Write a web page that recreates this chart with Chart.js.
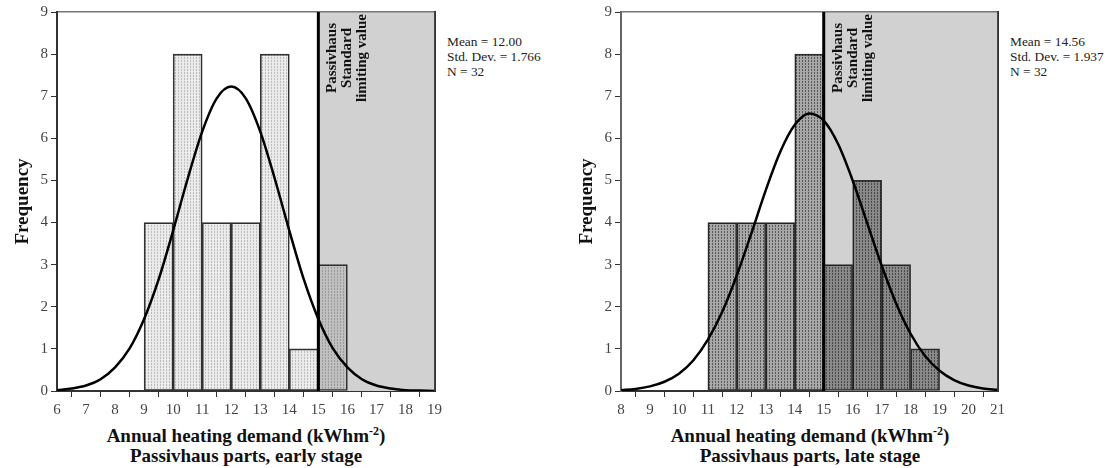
<!DOCTYPE html>
<html>
<head>
<meta charset="utf-8">
<script src="https://cdn.jsdelivr.net/npm/chart.js@4"></script>
<style>
  body { margin: 0; background: #fff; }
  #wrap { position: relative; width: 1119px; height: 468px; font-family: "Liberation Serif", "Times New Roman", serif; }
  canvas { position: absolute; top: 0; }
  .stats { position: absolute; top: 34px; font-family: "Liberation Serif", serif; font-size: 13.4px; line-height: 15px; color: #222; }
  .xtitle { position: absolute; top: 426px; width: 400px; text-align: center; font-family: "Liberation Serif", serif;
            font-weight: bold; font-size: 19px; line-height: 20px; color: #111; }
  .xtitle sup { font-size: 12px; line-height: 0; }
</style>
</head>
<body>
<div id="wrap">
  <canvas id="early" width="446" height="420" style="left:0px"></canvas>
  <canvas id="late" width="445" height="420" style="left:564px"></canvas>
  <div class="stats" id="earlyStats" style="left:447px"></div>
  <div class="stats" id="lateStats" style="left:1010px"></div>
  <div class="xtitle" style="left:46px">Annual heating demand (kWhm<sup>-2</sup>)<br>Passivhaus parts, early stage</div>
  <div class="xtitle" style="left:610px">Annual heating demand (kWhm<sup>-2</sup>)<br>Passivhaus parts, late stage</div>
</div>
<script>
// histogram bins (start of each 1-unit bin) and counts
const earlyBinStart = [9, 10, 11, 12, 13, 14, 15];
const earlyCounts   = [4, 8, 4, 4, 8, 1, 3];
const lateBinStart  = [11, 12, 13, 14, 15, 16, 17, 18];
const lateCounts    = [4, 4, 4, 8, 3, 5, 3, 1];

// fitted normal curve
const earlyCurveX = [6, 6.5, 7, 7.5, 8, 8.5, 9, 9.5, 10, 10.5, 11, 11.5, 12, 12.5, 13, 13.5, 14, 14.5, 15, 15.5, 16, 16.5, 17, 17.5, 18, 18.5, 19];
const earlyCurveY = [0.02, 0.06, 0.13, 0.28, 0.56, 1.01, 1.71, 2.65, 3.81, 5.04, 6.16, 6.95, 7.23, 6.95, 6.16, 5.04, 3.81, 2.65, 1.71, 1.01, 0.56, 0.28, 0.13, 0.06, 0.02, 0.01, 0.0];
const lateCurveX  = [8, 8.5, 9, 9.5, 10, 10.5, 11, 11.5, 12, 12.5, 13, 13.5, 14, 14.5, 15, 15.5, 16, 16.5, 17, 17.5, 18, 18.5, 19, 19.5, 20, 20.5, 21];
const lateCurveY  = [0.02, 0.05, 0.11, 0.22, 0.41, 0.73, 1.22, 1.89, 2.75, 3.74, 4.77, 5.68, 6.32, 6.59, 6.42, 5.86, 5.0, 3.99, 2.98, 2.08, 1.36, 0.83, 0.48, 0.26, 0.13, 0.06, 0.03];

// axis ranges
const earlyRange = [6, 19];
const lateRange  = [8, 21];
const freqRange  = [0, 9];
const limitValue = 15;
const limitLabel = ['Passivhaus', 'Standard', 'limiting value'];

const earlyStats = ['Mean = 12.00', 'Std. Dev. = 1.766', 'N = 32'];
const lateStats  = ['Mean = 14.56', 'Std. Dev. = 1.937', 'N = 32'];

document.getElementById('earlyStats').innerHTML = earlyStats.join('<br>');
document.getElementById('lateStats').innerHTML = lateStats.join('<br>');

function makePattern(ctx, base, dot) {
  const c = document.createElement('canvas');
  c.width = 3; c.height = 3;
  const g = c.getContext('2d');
  g.fillStyle = base; g.fillRect(0, 0, 3, 3);
  g.fillStyle = dot; g.fillRect(1, 0, 1, 2);
  return ctx.createPattern(c, 'repeat');
}

const limitText = {
  id: 'limitText',
  afterDatasetsDraw(chart) {
    const ctx = chart.ctx;
    const x = chart.scales.x.getPixelForValue(limitValue);
    ctx.save();
    ctx.translate(x + 14, chart.chartArea.top + 46);
    ctx.rotate(-Math.PI / 2);
    ctx.font = 'bold 15px "Liberation Serif"';
    ctx.fillStyle = '#111';
    ctx.textAlign = 'center';
    ctx.textBaseline = 'middle';
    limitLabel.forEach((l, i) => ctx.fillText(l, 0, i * 15));
    ctx.restore();
  }
};

function buildChart(id, range, binStart, counts, curveX, curveY, pat, axisColor) {
  const ctx = document.getElementById(id).getContext('2d');
  const tickFont = { family: '"Liberation Serif", serif', size: 15 };
  return new Chart(ctx, {
    type: 'bar',
    data: {
      datasets: [
        {
          type: 'line',
          data: [{ x: limitValue, y: freqRange[1] }, { x: limitValue, y: freqRange[0] }],
          borderColor: '#000',
          borderWidth: 3,
          pointRadius: 0,
          order: 0
        },
        {
          type: 'line',
          data: curveX.map((x, i) => ({ x, y: curveY[i] })),
          borderColor: '#000',
          borderWidth: 2.5,
          pointRadius: 0,
          cubicInterpolationMode: 'monotone',
          order: 1
        },
        {
          type: 'bar',
          data: binStart.map((b, i) => ({ x: b + 0.5, y: counts[i] })),
          backgroundColor: pat,
          borderColor: '#333',
          borderWidth: 1,
          borderSkipped: false,
          barPercentage: 1,
          categoryPercentage: 1,
          order: 2
        },
        {
          type: 'line',
          data: [{ x: limitValue, y: freqRange[1] }, { x: range[1], y: freqRange[1] }],
          backgroundColor: '#d1d1d1',
          borderColor: '#777',
          borderWidth: 1,
          pointRadius: 0,
          fill: 'origin',
          order: 3
        }
      ]
    },
    options: {
      responsive: false,
      animation: false,
      layout: { padding: { top: 11, right: 6, left: 0, bottom: 0 } },
      plugins: { legend: { display: false }, tooltip: { enabled: false } },
      scales: {
        x: {
          type: 'linear',
          min: range[0], max: range[1],
          offset: false,
          afterFit(s) { s.height = 29; },
          ticks: { stepSize: 1, color: '#444', font: tickFont, padding: 4, maxRotation: 0 },
          grid: { drawOnChartArea: false, tickLength: 6, tickColor: '#333' },
          border: { color: '#333', width: 2 }
        },
        x2: {
          type: 'linear', position: 'top',
          min: range[0], max: range[1],
          afterFit(s) { s.height = 0; },
          ticks: { display: false },
          grid: { display: false },
          border: { color: '#777', width: 1.5 }
        },
        y: {
          min: freqRange[0], max: freqRange[1],
          afterFit(s) { s.width = 57; },
          ticks: { stepSize: 1, color: '#444', font: tickFont, padding: 3 },
          grid: { drawOnChartArea: false, tickLength: 6, tickColor: '#333' },
          border: { color: axisColor, width: 2 },
          title: {
            display: true, text: 'Frequency', color: '#111',
            font: { family: '"Liberation Serif", serif', size: 19, weight: 'bold' },
            padding: { top: 12, bottom: 0 }
          }
        },
        y2: {
          position: 'right',
          min: freqRange[0], max: freqRange[1],
          afterFit(s) { s.width = 0; },
          ticks: { display: false },
          grid: { display: false },
          border: { color: '#333', width: 2 }
        }
      }
    },
    plugins: [limitText]
  });
}

const ctxE = document.getElementById('early').getContext('2d');
const ctxL = document.getElementById('late').getContext('2d');
buildChart('early', earlyRange, earlyBinStart, earlyCounts, earlyCurveX, earlyCurveY,
  makePattern(ctxE, 'rgba(0,0,0,0.08)', 'rgba(0,0,0,0.2)'), '#333');
buildChart('late', lateRange, lateBinStart, lateCounts, lateCurveX, lateCurveY,
  makePattern(ctxL, 'rgba(0,0,0,0.34)', 'rgba(0,0,0,0.48)'), '#666');
</script>
</body>
</html>
